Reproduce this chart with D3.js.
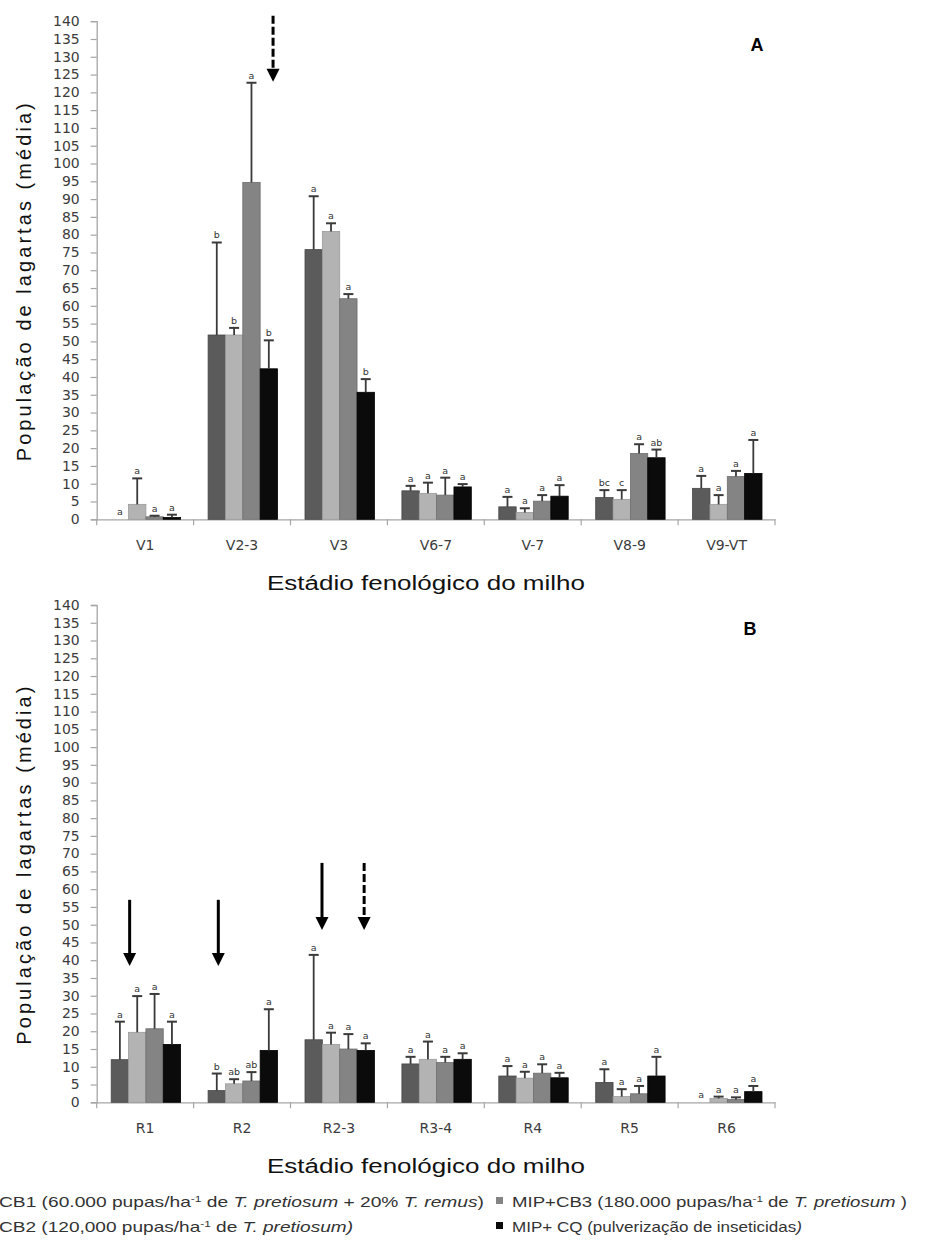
<!DOCTYPE html>
<html><head><meta charset="utf-8">
<script src="https://cdn.jsdelivr.net/npm/d3@7"></script>
<style>body{margin:0;background:#fff} svg{display:block}</style>
</head><body>
<svg id="chart" width="935" height="1240"></svg>
<script>
// ---------- DATA ----------
const seriesKeys = ["CB1","CB2","CB3","CQ"];
const yTicks = d3.range(0, 141, 5);

const catsA = ["V1","V2-3","V3","V6-7","V-7","V8-9","V9-VT"];
const meanA_CB1 = [0, 51.8, 75.8, 8.0, 3.5, 6.1, 8.7];
const meanA_CB2 = [4.2, 51.8, 80.9, 7.3, 1.9, 5.6, 4.2];
const meanA_CB3 = [0.7, 94.7, 62.0, 6.8, 5.1, 18.5, 12.0];
const meanA_CQ  = [0.5, 42.3, 35.7, 9.1, 6.5, 17.3, 12.9];
const errA_CB1 = [0, 26.0, 15.0, 1.4, 2.8, 2.1, 3.5];
const errA_CB2 = [7.3, 2.0, 2.3, 3.0, 1.2, 2.6, 2.6];
const errA_CB3 = [0.3, 28.0, 1.3, 4.9, 1.7, 2.6, 1.6];
const errA_CQ  = [0.8, 8.0, 3.7, 0.8, 3.1, 2.3, 9.4];
const letA_CB1 = ["a","b","a","a","a","bc","a"];
const letA_CB2 = ["a","b","a","a","a","c","a"];
const letA_CB3 = ["a","a","a","a","a","a","a"];
const letA_CQ  = ["a","b","b","a","a","ab","a"];

const catsB = ["R1","R2","R2-3","R3-4","R4","R5","R6"];
const meanB_CB1 = [12.0, 3.3, 17.6, 10.8, 7.4, 5.6, 0];
const meanB_CB2 = [19.7, 5.2, 16.3, 12.1, 6.8, 1.6, 1.1];
const meanB_CB3 = [20.7, 6.0, 15.0, 11.2, 8.2, 2.4, 0.8];
const meanB_CQ  = [16.3, 14.6, 14.6, 12.1, 6.9, 7.4, 3.0];
const errB_CB1 = [10.7, 4.8, 23.9, 2.0, 2.8, 3.7, 0];
const errB_CB2 = [10.2, 1.3, 3.3, 5.0, 1.8, 2.1, 0.5];
const errB_CB3 = [9.8, 2.5, 4.2, 1.6, 2.5, 2.2, 0.6];
const errB_CQ  = [6.4, 11.6, 2.0, 1.7, 1.4, 5.4, 1.6];
const letB_CB1 = ["a","b","a","a","a","a","a"];
const letB_CB2 = ["a","ab","a","a","a","a","a"];
const letB_CB3 = ["a","ab","a","a","a","a","a"];
const letB_CQ  = ["a","a","a","a","a","a","a"];

// arrows: category, fraction across band, start value, tip value, dashed
const arrowsA = [{cat:"V2-3", frac:0.82, from:141.5, to:123.0, dashed:true}];
const arrowsB = [
  {cat:"R1", frac:0.34, from:57.0, to:38.4, dashed:false},
  {cat:"R2", frac:0.255, from:57.0, to:38.4, dashed:false},
  {cat:"R2-3", frac:0.325, from:67.4, to:48.5, dashed:false},
  {cat:"R2-3", frac:0.76, from:67.4, to:48.5, dashed:true}
];

// ---------- STYLE ----------
const fills = {CB1:"#5b5b5b", CB2:"#b3b3b3", CB3:"#848484", CQ:"#0b0b0b"};
const strokes = {CB1:"#474747", CB2:"#9a9a9a", CB3:"#6e6e6e", CQ:"#000"};
const font = "'Liberation Sans', Arial, sans-serif";
const tickFont = "'DejaVu Sans', Verdana, sans-serif";

const svg = d3.select("#chart");

function buildRows(cats, means, errs, lets) {
  return cats.map((c, i) => ({
    cat: c,
    vals: seriesKeys.map((k, j) => ({key:k, cat:c, v: means[j][i], e: errs[j][i], l: lets[j][i]}))
  }));
}

function drawPanel(opt) {
  const x = d3.scaleBand().domain(opt.cats).range([96.7, 775]).paddingInner(0).paddingOuter(0);
  const xs = d3.scaleBand().domain(seriesKeys).range([14.5, x.bandwidth() - 13]).padding(0);
  const y = d3.scaleLinear().domain([0, 140]).range([opt.y0, opt.y140]);
  const g = svg.append("g");

  // y axis
  const yAxis = d3.axisLeft(y).tickValues(yTicks).tickSize(6).tickPadding(10);
  const ya = g.append("g").attr("transform", "translate(96.7,0)").call(yAxis);
  ya.select(".domain").attr("stroke", "#a6a6a6").attr("stroke-width", 1.3);
  ya.selectAll(".tick line").attr("stroke", "#a6a6a6").attr("stroke-width", 1.2);
  ya.selectAll(".tick text").attr("font-family", tickFont).attr("font-size", 13.5)
    .attr("fill", "#3c3c3c").attr("x", -17).attr("textLength", function(d){ return String(d).length * 8.9; })
    .attr("lengthAdjust", "spacingAndGlyphs");

  // x axis
  const xa = g.append("g").attr("transform", `translate(0,${opt.y0})`)
    .call(d3.axisBottom(x).tickSize(0).tickPadding(21));
  xa.select(".domain").attr("stroke", "#a6a6a6").attr("stroke-width", 1.3);
  xa.selectAll(".tick text").attr("font-family", tickFont).attr("font-size", 14)
    .attr("fill", "#3c3c3c");
  // boundary ticks
  const bounds = opt.cats.map(c => x(c)).concat([x.range()[1]]);
  g.append("g").selectAll("line").data(bounds).join("line")
    .attr("x1", d => d).attr("x2", d => d)
    .attr("y1", opt.y0).attr("y2", opt.y0 + 6)
    .attr("stroke", "#a6a6a6").attr("stroke-width", 1.2);

  const rows = buildRows(opt.cats, opt.means, opt.errs, opt.lets);
  const grp = g.append("g").selectAll("g").data(rows).join("g")
    .attr("transform", d => `translate(${x(d.cat)},0)`);

  grp.selectAll("rect").data(d => d.vals).join("rect")
    .attr("x", d => xs(d.key)).attr("width", xs.bandwidth())
    .attr("y", d => y(d.v)).attr("height", d => y(0) - y(d.v))
    .attr("fill", d => fills[d.key]).attr("stroke", d => strokes[d.key]).attr("stroke-width", 0.8)
    .attr("display", d => d.v > 0 ? null : "none");

  const eb = grp.selectAll("g.eb").data(d => d.vals.filter(v => v.e > 0)).join("g").attr("class","eb");
  eb.append("line")
    .attr("x1", d => xs(d.key) + xs.bandwidth()/2).attr("x2", d => xs(d.key) + xs.bandwidth()/2)
    .attr("y1", d => y(d.v)).attr("y2", d => y(d.v + d.e))
    .attr("stroke", "#3a3a3a").attr("stroke-width", 1.8);
  eb.append("line")
    .attr("x1", d => xs(d.key) + xs.bandwidth()/2 - 5).attr("x2", d => xs(d.key) + xs.bandwidth()/2 + 5)
    .attr("y1", d => y(d.v + d.e)).attr("y2", d => y(d.v + d.e))
    .attr("stroke", "#3a3a3a").attr("stroke-width", 2);

  grp.selectAll("text.let").data(d => d.vals).join("text").attr("class","let")
    .attr("x", d => xs(d.key) + xs.bandwidth()/2)
    .attr("y", d => y(d.v + d.e) - 4)
    .attr("text-anchor", "middle")
    .attr("font-family", tickFont).attr("font-size", 9.5).attr("fill", "#333")
    .text(d => d.l);

  // arrows
  const ag = g.append("g").selectAll("g").data(opt.arrows).join("g");
  ag.append("line")
    .attr("x1", d => x(d.cat) + d.frac * x.bandwidth()).attr("x2", d => x(d.cat) + d.frac * x.bandwidth())
    .attr("y1", d => y(d.from)).attr("y2", d => y(d.to) - 12)
    .attr("stroke", "#000").attr("stroke-width", 3)
    .attr("stroke-dasharray", d => d.dashed ? "8,3" : null);
  ag.append("path")
    .attr("d", d => {
      const cx = x(d.cat) + d.frac * x.bandwidth(), ty = y(d.to);
      return `M${cx-6.5},${ty-13}L${cx+6.5},${ty-13}L${cx},${ty}Z`;
    })
    .attr("fill", "#000");

  // panel letter
  g.append("text").attr("x", opt.letterX).attr("y", opt.y140 + 30)
    .attr("font-family", font).attr("font-weight", "bold").attr("font-size", 18)
    .attr("fill", "#000").attr("text-anchor", "middle").text(opt.letter);

  // y title
  const yc = (opt.y0 + opt.y140) / 2 + 12;
  g.append("text").attr("transform", `translate(31,${yc}) rotate(-90)`)
    .attr("text-anchor", "middle").attr("font-family", font).attr("font-size", 20)
    .attr("fill", "#111").attr("textLength", 358).attr("lengthAdjust", "spacing")
    .text("População de lagartas (média)");

  // x title
  g.append("text").attr("x", 426).attr("y", opt.y0 + 71)
    .attr("text-anchor", "middle").attr("font-family", font).attr("font-size", 20)
    .attr("fill", "#111").attr("textLength", 318).attr("lengthAdjust", "spacingAndGlyphs")
    .text("Estádio fenológico do milho");
}

drawPanel({cats: catsA, means:[meanA_CB1,meanA_CB2,meanA_CB3,meanA_CQ],
  errs:[errA_CB1,errA_CB2,errA_CB3,errA_CQ], lets:[letA_CB1,letA_CB2,letA_CB3,letA_CQ],
  y0: 519.3, y140: 21.2, arrows: arrowsA, letter: "A", letterX: 757});
drawPanel({cats: catsB, means:[meanB_CB1,meanB_CB2,meanB_CB3,meanB_CQ],
  errs:[errB_CB1,errB_CB2,errB_CB3,errB_CQ], lets:[letB_CB1,letB_CB2,letB_CB3,letB_CQ],
  y0: 1102.3, y140: 605, arrows: arrowsB, letter: "B", letterX: 750});

// ---------- LEGEND ----------
const leg = svg.append("g").attr("font-family", font).attr("font-size", 14.5).attr("fill", "#333");
function legText(xp, yp, parts, len) {
  const t = leg.append("text").attr("x", xp).attr("y", yp);
  parts.forEach(p => {
    const s = t.append("tspan").text(p.t);
    if (p.i) s.attr("font-style", "italic");
    if (p.sup) s.attr("font-size", 9).attr("dy", -5);
    if (p.down) s.attr("dy", 5);
  });
  if (len) t.attr("textLength", len).attr("lengthAdjust", "spacingAndGlyphs");
}
legText(-1, 1207, [{t:"CB1 (60.000 pupas/ha"},{t:"-1", sup:true},{t:" de ", down:true},{t:"T. pretiosum", i:true},{t:" + 20% "},{t:"T. remus", i:true},{t:")"}], 485);
legText(-1, 1232, [{t:"CB2 (120,000 pupas/ha"},{t:"-1", sup:true},{t:" de ", down:true},{t:"T. pretiosum)", i:true}], 354);
leg.append("rect").attr("x", 496).attr("y", 1197).attr("width", 7).attr("height", 7).attr("fill", fills.CB3);
leg.append("rect").attr("x", 496).attr("y", 1222).attr("width", 7).attr("height", 7).attr("fill", fills.CQ);
legText(512, 1207, [{t:"MIP+CB3 (180.000 pupas/ha"},{t:"-1", sup:true},{t:" de ", down:true},{t:"T. pretiosum", i:true},{t:" )"}], 395);
legText(512, 1232, [{t:"MIP+ CQ (pulverização de inseticidas"},{t:")", i:true}], 290);
</script>
</body></html>
